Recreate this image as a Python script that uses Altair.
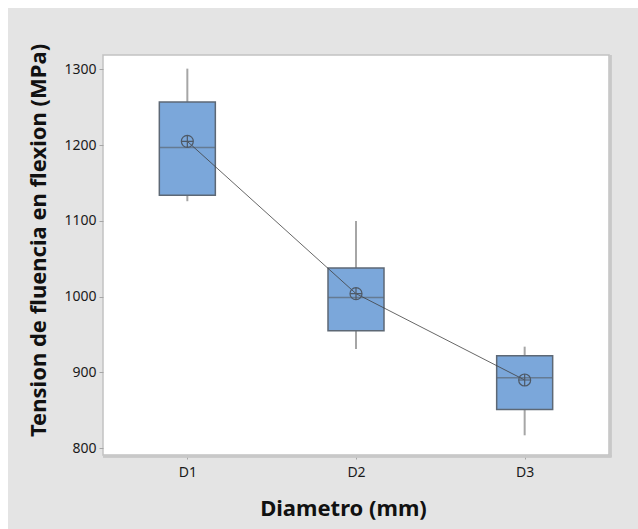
import altair as alt
import pandas as pd

cats = ["D1", "D2", "D3"]
whisk_low = [1126, 931, 817]
q1 = [1134, 955, 851]
median = [1197, 999, 893]
q3 = [1257, 1038, 922]
whisk_high = [1301, 1100, 934]
means = [1205, 1004, 890]

df = pd.DataFrame({
    "cat": cats, "low": whisk_low, "q1": q1, "med": median,
    "q3": q3, "high": whisk_high, "mean": means,
})

W, H = 506, 400
FONT = "Noto Sans"

xenc = alt.X("cat:N", scale=alt.Scale(type="point", padding=0.5),
             axis=alt.Axis(title="Diametro (mm)", labelAngle=0, titleX=240, titleY=53,
                           titleBaseline="middle", labelPadding=6))
yscale = alt.Scale(domain=[791, 1319], nice=False, zero=False)
yaxis = alt.Axis(title="Tension de fluencia en flexion (MPa)", values=[800, 900, 1000, 1100, 1200, 1300],
                 format="d",
                 titleX=-65, titleY=H / 2 - 15, titleBaseline="middle", titleAlign="center", labelPadding=3)

base = alt.Chart(df)

strip_top = base.mark_rect(color="white", clip=False).encode(
    x=alt.value(-103), x2=alt.value(W + 40), y=alt.value(-55), y2=alt.value(-47))
strip_left = base.mark_rect(color="white", clip=False).encode(
    x=alt.value(-103), x2=alt.value(-95), y=alt.value(-55), y2=alt.value(H + 80))
shadow_r = base.mark_rule(color="#c8c8c8", strokeWidth=2, clip=False).encode(
    x=alt.value(W + 1.5), y=alt.value(0), y2=alt.value(H + 1.5))
shadow_b = base.mark_rule(color="#c8c8c8", strokeWidth=2, clip=False).encode(
    x=alt.value(0), x2=alt.value(W + 2.5), y=alt.value(H + 1.5))

w_lo = base.mark_rule(color="#a6a6a6", strokeWidth=2).encode(
    x=xenc, y=alt.Y("low:Q", scale=yscale, axis=yaxis), y2="q1:Q")
w_hi = base.mark_rule(color="#a6a6a6", strokeWidth=2).encode(
    x=xenc, y=alt.Y("q3:Q", scale=yscale, axis=yaxis), y2="high:Q")
box = base.mark_bar(size=56, color="#7ba7da", stroke="#5d6875", strokeWidth=1.5).encode(
    x=xenc, y=alt.Y("q1:Q", scale=yscale, axis=yaxis), y2="q3:Q")
med = base.mark_tick(size=56, thickness=1.5, color="#5d6875", orient="horizontal").encode(
    x=xenc, y=alt.Y("med:Q", scale=yscale, axis=yaxis))
mline = base.mark_line(color="#404040", strokeWidth=0.8).encode(
    x=xenc, y=alt.Y("mean:Q", scale=yscale, axis=yaxis))
mpt = base.mark_point(
    shape="M-1,0A1,1 0 1,0 1,0A1,1 0 1,0 -1,0M-1,0L1,0M0,-1L0,1",
    size=144, filled=False, color="#4e5966", strokeWidth=1.2, opacity=1).encode(
    x=xenc, y=alt.Y("mean:Q", scale=yscale, axis=yaxis))

chart = alt.layer(strip_top, strip_left, shadow_r, shadow_b, w_lo, w_hi, box, med, mline, mpt).properties(
    width=W, height=H,
    background="#e4e4e4",
    padding={"left": 103, "top": 55, "right": 29, "bottom": 74},
    autosize=alt.AutoSizeParams(type="none"),
).configure_view(
    fill="white", stroke="#c2c2c2", strokeWidth=1.5
).configure_axis(
    labelFont=FONT, labelFontSize=14, labelColor="#1a1a1a",
    titleFont=FONT, titleFontSize=22, titleFontWeight="bold", titleColor="#111111",
    tickColor="#a6a6a6", tickSize=4, domain=False, grid=False,
)

chart.save("out.html", embed_options={"renderer": "svg", "actions": False})
